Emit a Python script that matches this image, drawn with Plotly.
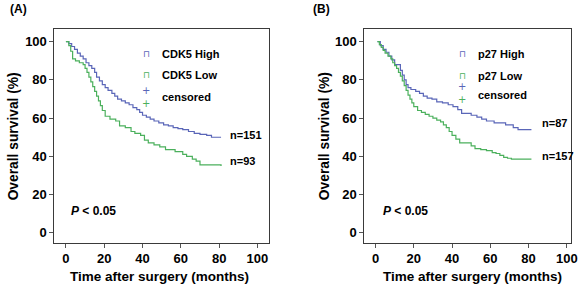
import plotly.graph_objects as go

W, H = 588, 289

# ---------------- data ----------------
a_high_t = [0, 1.5, 3, 4.5, 6, 7.5, 9, 10.5, 12, 13.5, 15, 16, 17.5, 19, 20.5, 22, 24, 25.5, 27, 29, 31, 33,
            35, 37, 38.5, 40, 42, 44, 46, 48.5, 51, 53.5, 56, 58.5, 61, 64, 67, 70, 73.5, 76, 81]
a_high_s = [100, 99, 97.5, 96, 94, 92.5, 91, 89, 87.5, 86, 84, 81.5, 79.5, 77.5, 76, 74.5, 73, 71.5, 70, 69,
            68, 67, 65.5, 64.5, 63, 61.5, 60.5, 59.5, 58.5, 57.5, 56.5, 56, 55, 54.5, 54, 53, 52, 51.5, 51, 50, 50]
a_low_t = [0, 1.5, 2.5, 3.5, 5, 7, 9, 10, 11, 12, 13, 14, 15, 16, 17, 18, 19, 20.5, 23, 26, 28, 31, 34, 36,
           39, 41, 43, 46, 49, 52, 57, 61, 63, 66, 68, 70, 81]
a_low_s = [100, 98, 95, 91, 90, 89, 88, 86, 84, 81.5, 79, 76.5, 74, 71.5, 69, 66.5, 64, 61, 59.5, 58.5, 56,
           55, 53, 52, 51, 48.5, 47, 46, 45, 43.5, 42.5, 41, 40, 38.5, 37.5, 35.5, 35]

b_high_t = [1, 2.5, 4, 5.5, 7, 8.5, 10, 13, 14, 15, 16, 17, 18.5, 21, 23, 25, 27, 29.5, 32, 35, 38, 40.5,
            43, 45, 50, 53, 55.5, 58, 62, 68, 72, 74.5, 81.5]
b_high_s = [100, 98, 96, 94.5, 92.5, 90.5, 88, 85, 82.5, 80, 77.5, 76, 75, 74, 73, 71.5, 70.5, 70, 68.5, 68,
            67, 66, 64.5, 62.5, 61.5, 60.5, 59.5, 58.5, 57.5, 56.5, 55, 54, 54]
b_low_t = [1, 2, 3, 4, 5, 6.5, 8, 9, 10, 11, 12, 13, 14, 15, 16, 17, 18, 19, 20, 22, 24, 26, 28, 30, 32, 34,
           35.5, 37, 38.5, 40, 42, 44, 47, 50, 52, 55, 58, 61, 63, 65, 67, 69, 71, 81.5]
b_low_s = [100, 98.5, 97, 95.5, 94, 92.5, 91, 89, 87.5, 86, 84, 82, 79.5, 77, 74.5, 72, 70, 68, 66, 64, 63,
           62, 61, 60, 59, 58, 56.5, 55, 53, 51, 49, 47, 47, 45.5, 44, 43.5, 43, 42, 41.5, 40.5, 39.5, 39,
           38.5, 38.5]

x_ticks = [0, 20, 40, 60, 80, 100]
y_ticks = [0, 20, 40, 60, 80, 100]

panels = [
    dict(label="(A)", high="CDK5 High", low="CDK5 Low", n_high="n=151", n_low="n=93",
         ht=a_high_t, hs=a_high_s, lt=a_low_t, ls=a_low_s),
    dict(label="(B)", high="p27 High", low="p27 Low", n_high="n=87", n_low="n=157",
         ht=b_high_t, hs=b_high_s, lt=b_low_t, ls=b_low_s),
]

BLUE = "#5a66b8"
GREEN = "#4bb05c"
FONT = "Liberation Sans, Arial, sans-serif"


def px(x):
    return x / W


def py(y):
    return 1 - y / H


fig = go.Figure()

# layout geometry (page pixels)
boxes = [(55, 271.7), (368, 577.3)]
xranges = [[-6.0, 106.0], [-5.9, 102.4]]
ytop, ybot = 29.3, 242.7
yrange = [-5.2, 106.5]

geo = [
    dict(lab=(19, 8.5), leg_glyph=148, leg_text=161.5, rows=(53.5, 75, 96.5), cross=97,
         nx=230, nyh=135, nyl=161, px_=70, py_=211, ytitle=13.5, xtitle=161.5),
    dict(lab=(325, 8.5), leg_glyph=467, leg_text=480.5, rows=(53.5, 75.5, 94.5), cross=93.5,
         nx=545.5, nyh=123.3, nyl=155.7, px_=384.5, py_=211, ytitle=327.5, xtitle=477.3),
]

annotations = []
for i, p in enumerate(panels):
    xa = "x" if i == 0 else "x2"
    ya = "y" if i == 0 else "y2"
    fig.add_trace(go.Scatter(x=p["ht"], y=p["hs"], mode="lines", line=dict(color=BLUE, width=1.2, shape="hv"),
                             xaxis=xa, yaxis=ya, showlegend=False, name=p["high"]))
    fig.add_trace(go.Scatter(x=p["lt"], y=p["ls"], mode="lines", line=dict(color=GREEN, width=1.2, shape="hv"),
                             xaxis=xa, yaxis=ya, showlegend=False, name=p["low"]))
    g = geo[i]
    bold = dict(family=FONT, size=11, color="black")
    annotations += [
        dict(text="<b>%s</b>" % p["label"], x=px(g["lab"][0]), y=py(g["lab"][1]), xref="paper", yref="paper",
             showarrow=False, font=dict(family=FONT, size=12, color="black"), xanchor="center", yanchor="middle"),
        # legend
        dict(text="⊓", x=px(g["leg_glyph"]), y=py(g["rows"][0]), xref="paper", yref="paper", showarrow=False,
             font=dict(family="DejaVu Sans", size=9, color=BLUE), xanchor="center", yanchor="middle"),
        dict(text="⊓", x=px(g["leg_glyph"]), y=py(g["rows"][1]), xref="paper", yref="paper", showarrow=False,
             font=dict(family="DejaVu Sans", size=9, color=GREEN), xanchor="center", yanchor="middle"),
        dict(text="<span style='color:%s'>+</span><br><span style='color:%s'>+</span>" % (BLUE, GREEN),
             x=px(g["leg_glyph"]), y=py(g["cross"]), xref="paper", yref="paper", showarrow=False,
             font=dict(family="DejaVu Sans", size=10, color=BLUE), xanchor="center", yanchor="middle",
             borderpad=0),
        dict(text="<b>%s</b>" % p["high"], x=px(g["leg_text"]), y=py(g["rows"][0]), xref="paper", yref="paper",
             showarrow=False, font=bold, xanchor="left", yanchor="middle"),
        dict(text="<b>%s</b>" % p["low"], x=px(g["leg_text"]), y=py(g["rows"][1]), xref="paper", yref="paper",
             showarrow=False, font=bold, xanchor="left", yanchor="middle"),
        dict(text="<b>censored</b>", x=px(g["leg_text"]), y=py(g["rows"][2]), xref="paper", yref="paper",
             showarrow=False, font=bold, xanchor="left", yanchor="middle"),
        # n labels
        dict(text="<b>%s</b>" % p["n_high"], x=px(g["nx"]), y=py(g["nyh"]), xref="paper", yref="paper",
             showarrow=False, font=bold, xanchor="left", yanchor="middle"),
        dict(text="<b>%s</b>" % p["n_low"], x=px(g["nx"]), y=py(g["nyl"]), xref="paper", yref="paper",
             showarrow=False, font=bold, xanchor="left", yanchor="middle"),
        # P value
        dict(text="<b><i>P</i> &lt; 0.05</b>", x=px(g["px_"]), y=py(g["py_"]), xref="paper", yref="paper",
             showarrow=False, font=dict(family=FONT, size=12, color="black"), xanchor="left", yanchor="middle"),
        # axis titles
        dict(text="<b>Overall survival (%)</b>", x=px(g["ytitle"]), y=py(136), xref="paper", yref="paper",
             showarrow=False, textangle=-90, font=dict(family=FONT, size=13.8, color="black"),
             xanchor="center", yanchor="middle"),
        dict(text="<b>Time after surgery (months)</b>", x=px(g["xtitle"]), y=py(276.5), xref="paper",
             yref="paper", showarrow=False, font=dict(family=FONT, size=13.5, color="black"),
             xanchor="center", yanchor="middle"),
    ]

axis_common = dict(showline=True, mirror=True, linecolor="#3a3a3a", linewidth=1, ticks="outside", ticklen=4,
                   tickcolor="#555", showgrid=False, zeroline=False,
                   tickfont=dict(family=FONT, size=13, color="black"))

fig.update_layout(
    width=W, height=H, margin=dict(l=0, r=0, t=0, b=0),
    paper_bgcolor="white", plot_bgcolor="white", showlegend=False,
    xaxis=dict(domain=[px(boxes[0][0]), px(boxes[0][1])], range=xranges[0], tickvals=x_ticks,
               ticktext=["<b>%d</b>" % v for v in x_ticks], anchor="y", **axis_common),
    yaxis=dict(domain=[py(ybot), py(ytop)], range=yrange, tickvals=y_ticks,
               ticktext=["<b>%d</b>" % v for v in y_ticks], anchor="x", **axis_common),
    xaxis2=dict(domain=[px(boxes[1][0]), px(boxes[1][1])], range=xranges[1], tickvals=x_ticks,
                ticktext=["<b>%d</b>" % v for v in x_ticks], anchor="y2", **axis_common),
    yaxis2=dict(domain=[py(ybot), py(ytop)], range=yrange, tickvals=y_ticks,
                ticktext=["<b>%d</b>" % v for v in y_ticks], anchor="x2", **axis_common),
    annotations=annotations,
)

# remove the default 8px page margin so the 588x289 figure fills the window exactly
fig.write_html("out.html", config={"displayModeBar": False},
               post_script="document.body.style.margin='0';")
